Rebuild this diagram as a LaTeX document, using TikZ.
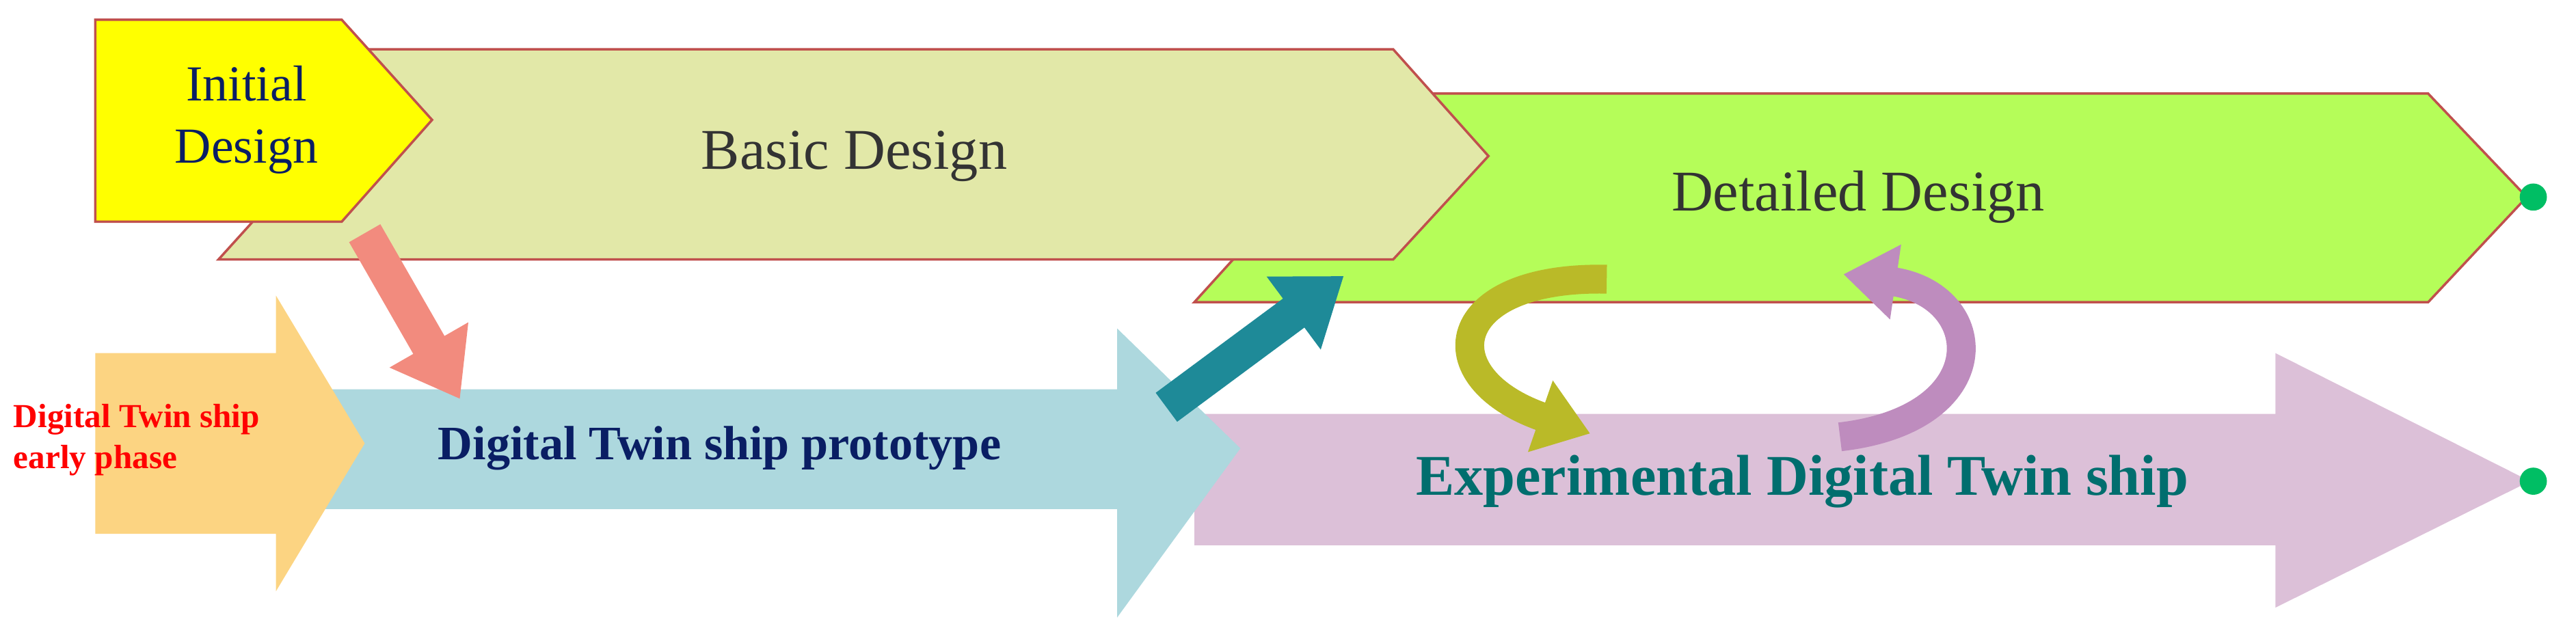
\documentclass[tikz,border=0pt]{standalone}
\usepackage{fontspec}
\setmainfont{Liberation Serif}
\usepackage{tikz}
\usetikzlibrary{arrows.meta}
\definecolor{initfill}{RGB}{255,255,0}
\definecolor{basicfill}{RGB}{226,232,168}
\definecolor{detailfill}{RGB}{181,253,89}
\definecolor{edgered}{RGB}{192,80,77}
\definecolor{earlyfill}{RGB}{252,212,130}
\definecolor{protofill}{RGB}{173,216,222}
\definecolor{expfill}{RGB}{220,192,216}
\definecolor{salmon}{RGB}{242,139,126}
\definecolor{tealarr}{RGB}{30,138,152}
\definecolor{olivearr}{RGB}{186,186,40}
\definecolor{mauvearr}{RGB}{190,140,190}
\definecolor{navytext}{RGB}{10,30,100}
\definecolor{tealtext}{RGB}{0,110,110}
\definecolor{dotgreen}{RGB}{0,190,100}
\tikzset{
  phase/.style={draw=edgered,line width=1pt},
  label/.style={font=\fontsize{24}{27}\selectfont,align=center},
  bold label/.style={font=\fontsize{20}{24}\selectfont\bfseries,align=center},
  jump/.style={line width=15pt,-{Triangle[width=36pt,length=26pt]}},
  turn/.style={line width=12pt,-{Triangle[width=30pt,length=22pt]}}
}
\begin{document}
\begin{tikzpicture}[x=0.02403cm,y=-0.02403cm]
    \useasboundingbox (0,0) rectangle (1568,381);
    % lower arrows
    \fill[expfill] (727,252) -- (1385,252) -- (1385,215) -- (1540,293) -- (1385,370) -- (1385,332) -- (727,332) -- cycle;
    \fill[protofill] (197,237) -- (680,237) -- (680,200) -- (755,273) -- (680,376) -- (680,310) -- (197,310) -- cycle;
    \fill[earlyfill] (58,215) -- (168,215) -- (168,180) -- (222,270) -- (168,360) -- (168,325) -- (58,325) -- cycle;
    % design phases
    \filldraw[phase,fill=detailfill] (785,57) -- (1478,57) -- (1538,120) -- (1478,184) -- (727,184) -- (785,120) -- cycle;
    \filldraw[phase,fill=basicfill] (190,30) -- (848,30) -- (906,95) -- (848,158) -- (133,158) -- (190,95) -- cycle;
    \filldraw[phase,fill=initfill] (58,12) -- (208,12) -- (263,73) -- (208,135) -- (58,135) -- cycle;
    \node[label,font=\fontsize{21}{26}\selectfont,text=navytext] (init) at (150,73) {Initial\\Design};
    \node[label,text=black!80] (basic) at (520,95) {Basic Design};
    \node[label,text=black!80] (detail) at (1131,120) {Detailed Design};
    \node[bold label,font=\fontsize{14}{17}\selectfont\bfseries,text=red,align=left,anchor=west,inner sep=0pt] (early) at (8,268) {Digital Twin ship\\early phase};
    \node[bold label,text=navytext] (proto) at (438,273) {Digital Twin ship prototype};
    \node[bold label,font=\fontsize{24}{28}\selectfont\bfseries,text=tealtext] (exp) at (1097,293) {Experimental Digital Twin ship};
    \node[shape=circle,fill=dotgreen,inner sep=4pt] (enda) at (1542,120) {};
    \node[shape=circle,fill=dotgreen,inner sep=4pt] (endb) at (1542,293) {};
    % transitions
    \coordinate (s1) at (222,142);
    \coordinate (e1) at (280,243);
    \coordinate (s2) at (710,248);
    \coordinate (e2) at (818,168);
    \coordinate (s3) at (978,170);
    \coordinate (e3) at (968,264);
    \coordinate (s4) at (1120,266);
    \coordinate (e4) at (1122,167);
    \draw[jump,salmon] (s1) -- (e1);
    \draw[jump,tealarr] (s2) -- (e2);
    \draw[turn,olivearr] (s3) .. controls (880,168) and (870,230) .. (e3);
    \draw[turn,mauvearr] (s4) .. controls (1215,255) and (1210,180) .. (e4);
\end{tikzpicture}
\end{document}
